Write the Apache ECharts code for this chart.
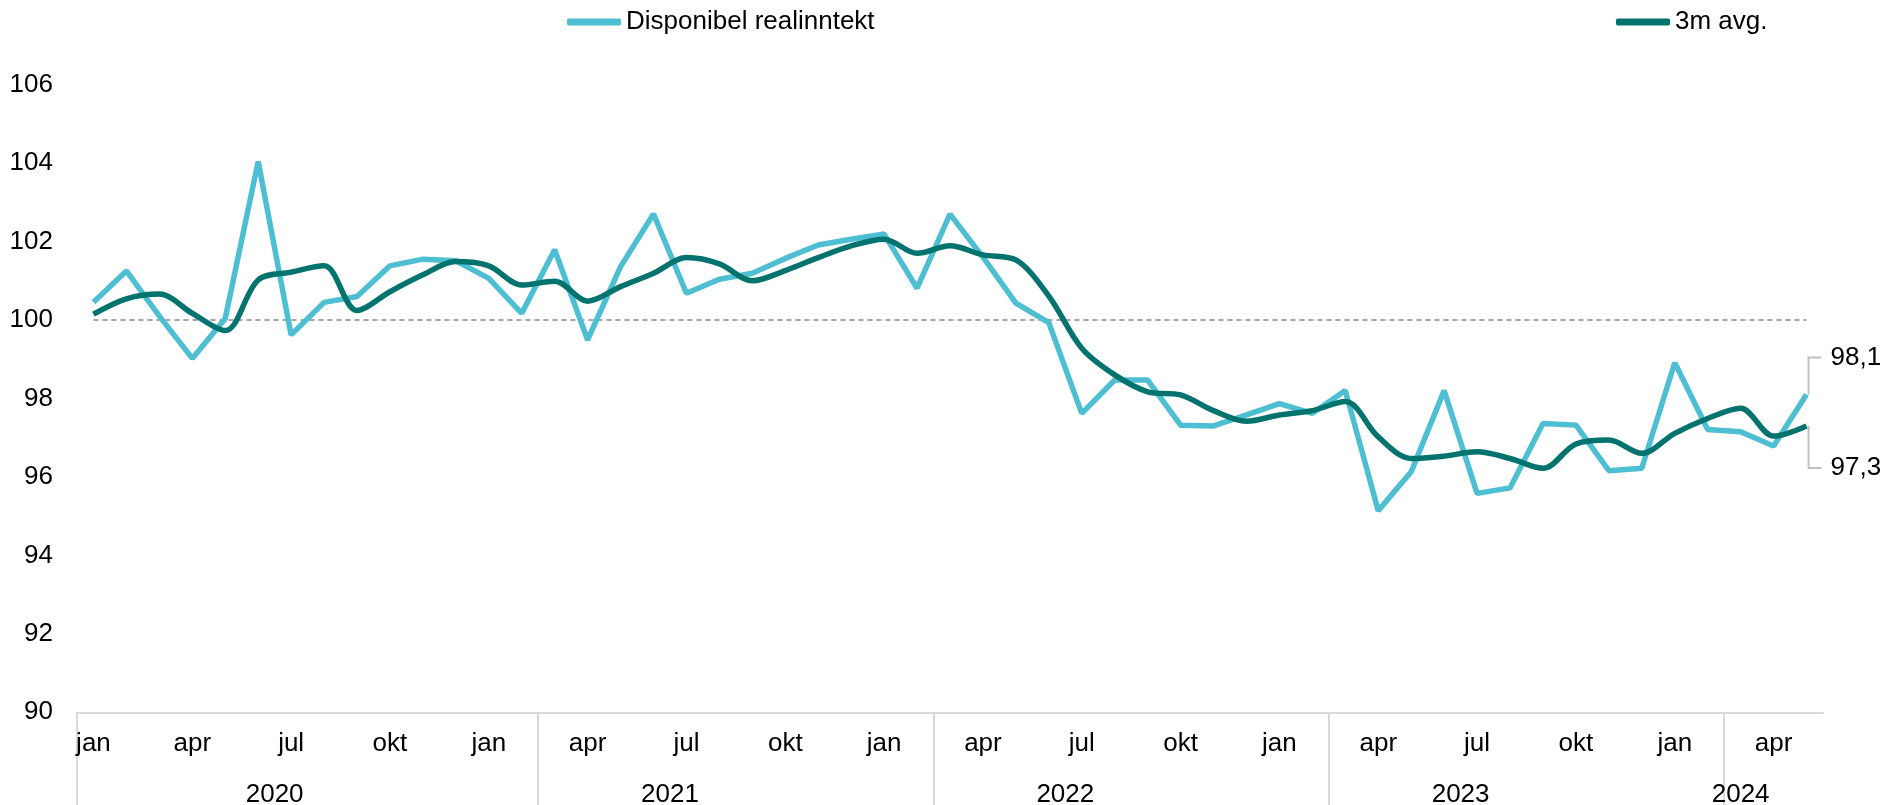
<!DOCTYPE html>
<html>
<head>
<meta charset="utf-8">
<script src="https://cdn.jsdelivr.net/npm/echarts@6/dist/echarts.min.js"></script>
<style>
  html, body { margin: 0; padding: 0; background: #fff; }
  #root { width: 1901px; height: 805px; }
</style>
</head>
<body>
<div id="root"></div>
<script>
const monthNames = ['jan', 'feb', 'mar', 'apr', 'mai', 'jun', 'jul', 'aug', 'sep', 'okt', 'nov', 'des'];
const startYear = 2020;

// monthly index values, jan 2020 - mai 2024
const disponibel = [
  100.45, 101.25, 100.1, 99.02, 100.04, 104.04, 99.62, 100.45, 100.6, 101.38, 101.55, 101.51,
  101.06, 100.17, 101.79, 99.49, 101.36, 102.7, 100.68, 101.04, 101.19, 101.57, 101.91, 102.06,
  102.19, 100.81, 102.7, 101.6, 100.43, 99.93, 97.62, 98.47, 98.47, 97.32, 97.3, 97.58,
  97.87, 97.62, 98.2, 95.14, 96.13, 98.2, 95.58, 95.72, 97.36, 97.32, 96.16, 96.22,
  98.91, 97.21, 97.15, 96.79, 98.1
];
const avg3m = [
  100.15, 100.54, 100.66, 100.17, 99.73, 101.02, 101.22, 101.38, 100.24, 100.72, 101.15, 101.49,
  101.38, 100.89, 100.99, 100.48, 100.85, 101.19, 101.59, 101.43, 101.0, 101.26, 101.59, 101.89,
  102.06, 101.7, 101.89, 101.66, 101.53, 100.61, 99.28, 98.6, 98.17, 98.09, 97.69, 97.42,
  97.58, 97.69, 97.92, 97.02, 96.47, 96.53, 96.64, 96.47, 96.22, 96.84, 96.94, 96.6,
  97.11, 97.49, 97.75, 97.04, 97.3
];
const refLevel = 100;
const yMin = 90, yMax = 106, yStep = 2;
// the year dividers in the source sit just before March
const dividerMonth = 2;

const periods = disponibel.map((_, i) =>
  (startYear + Math.floor(i / 12)) + '-' + String(i % 12 + 1).padStart(2, '0'));
const years = [...new Set(periods.map(p => p.slice(0, 4)))];
const yearCenters = years.map(y => {
  const idx = periods.map((p, i) => p.startsWith(y) ? i : null).filter(i => i !== null);
  return idx.reduce((a, b) => a + b, 0) / idx.length;
});
const yearBreaks = [-0.5].concat(periods
  .map((p, i) => (+p.slice(5) - 1 === dividerMonth && +p.slice(0, 4) > startYear) ? i - 0.5 : null)
  .filter(v => v !== null));

const font = '"Liberation Sans", Arial, sans-serif';
const lightColor = '#4EBED2';
const darkColor = '#00736F';

const chart = echarts.init(document.getElementById('root'));

const legendText = { fontSize: 26, color: '#000', fontFamily: font };

const option = {
  animation: false,
  textStyle: { fontFamily: font },
  grid: { left: 77, right: 78, top: 84.6, bottom: 92.7, containLabel: false, outerBoundsMode: 'none' },
  legend: [
    { data: ['Disponibel realinntekt'], left: 562, top: 4, icon: 'roundRect',
      itemWidth: 54, itemHeight: 7, textStyle: legendText },
    { data: ['3m avg.'], left: 1611, top: 4, icon: 'roundRect',
      itemWidth: 54, itemHeight: 7, textStyle: legendText }
  ],
  xAxis: [
    {
      type: 'category',
      data: periods,
      boundaryGap: true,
      axisLine: { lineStyle: { color: '#D9D9D9', width: 2 } },
      axisTick: { show: false },
      axisLabel: {
        interval: 2,
        formatter: v => monthNames[+v.slice(5) - 1],
        fontSize: 26, color: '#000', margin: 19
      }
    },
    {
      type: 'value',
      position: 'bottom',
      min: -0.5,
      max: periods.length - 0.5,
      axisLine: { show: false },
      splitLine: { show: false },
      axisTick: {
        show: true, customValues: yearBreaks, length: 93,
        lineStyle: { color: '#D9D9D9', width: 2 }
      },
      axisLabel: {
        customValues: yearCenters,
        alignMinLabel: 'center',
        alignMaxLabel: 'center',
        formatter: v => {
          const k = yearCenters.findIndex(c => Math.abs(c - v) < 0.01);
          return k >= 0 ? years[k] : '';
        },
        fontSize: 26, color: '#000', margin: 70
      }
    }
  ],
  yAxis: {
    type: 'value',
    min: yMin, max: yMax, interval: yStep,
    axisLine: { show: false },
    axisTick: { show: false },
    splitLine: { show: false },
    axisLabel: { fontSize: 26, color: '#000', margin: 24 }
  },
  series: [
    {
      name: 'Disponibel realinntekt',
      type: 'line',
      data: disponibel,
      symbol: 'none',
      z: 3,
      lineStyle: { color: lightColor, width: 5.5 },
      itemStyle: { color: lightColor },
      markLine: {
        silent: true,
        symbol: 'none',
        z: 1,
        label: { show: false },
        lineStyle: { type: [5, 4], color: '#A6A6A6', width: 2 },
        data: [[
          { coord: [periods[0], refLevel] },
          { coord: [periods[periods.length - 1], refLevel] }
        ]]
      }
    },
    {
      name: '3m avg.',
      type: 'line',
      data: avg3m,
      smooth: 0.33,
      symbol: 'none',
      z: 4,
      lineStyle: { color: darkColor, width: 5.5 },
      itemStyle: { color: darkColor }
    }
  ]
};

chart.setOption(option);

// end-value labels with bracket leader lines
const last = periods.length - 1;
const fmt = v => v.toFixed(1).replace('.', ',');
const endNotes = [
  { series: 0, value: disponibel[last], dy: -37 },
  { series: 1, value: avg3m[last], dy: 42 }
];
const graphic = [];
endNotes.forEach(n => {
  const [x, y] = chart.convertToPixel({ seriesIndex: n.series }, [last, n.value]);
  graphic.push({
    type: 'polyline',
    shape: { points: [[x + 2, y], [x + 2, y + n.dy], [x + 15, y + n.dy]] },
    style: { stroke: '#BFBFBF', lineWidth: 2, fill: null }
  });
  graphic.push({
    type: 'text',
    x: x + 24,
    y: y + n.dy,
    style: { text: fmt(n.value), fontSize: 26, fill: '#000', verticalAlign: 'middle', fontFamily: font }
  });
});
chart.setOption({ graphic: graphic });
</script>
</body>
</html>
